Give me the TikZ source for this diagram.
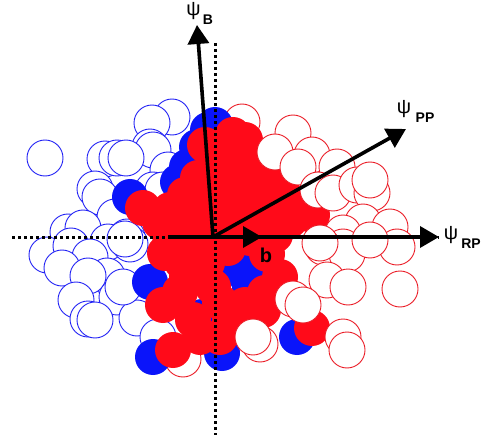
\documentclass[tikz,border=0pt]{standalone}
\usepackage{fontspec}
\setmainfont{Liberation Sans}
\usetikzlibrary{arrows.meta}
\definecolor{rfill}{RGB}{255,10,25}
\definecolor{bfill}{RGB}{10,20,250}
\definecolor{rline}{RGB}{235,30,40}
\definecolor{bline}{RGB}{35,35,245}
\tikzset{
  bopen/.style={draw=bline,fill=white,line width=0.9pt},
  ropen/.style={draw=rline,fill=white,line width=0.9pt},
  bsolid/.style={fill=bfill},
  rsolid/.style={fill=rfill},
  axisdot/.style={line width=3pt,dash pattern=on 3pt off 3pt},
  vec/.style={line width=3.6pt,-{Triangle[length=19pt,width=21pt]}},
  psi/.style={inner sep=0pt,font=\fontsize{20}{20}\selectfont},
  sub/.style={inner sep=0pt,font=\bfseries\fontsize{14}{14}\selectfont},
}
\begin{document}
\begin{tikzpicture}[x=1pt,y=-1pt]
\useasboundingbox (0,0) rectangle (485,441);
% blue open
\foreach \cx/\cy in {45/158,172/117,152/123,150/147,153/150,105/159,117/158,126/158,168/170,95/189,100/197,153/190,163/190,115/217,68/232,83/228,127/237,108/242,130/244,47/255,71/246,90/257,62/268,107/276,88/276,117/297,76/300,88/319,95/320,137/318,123/287,125/239,158/337}
  \draw[bopen] (\cx,\cy) circle (18pt);
% red open underneath
\foreach \cx/\cy in {242/122,183/359}
  \draw[ropen] (\cx,\cy) circle (18pt);
% blue filled
\foreach \cx/\cy in {130/197,208/130,215/125,197/147,187/167,178/182,150/282,153/357,222/353,202/317,237/268,250/287,297/337,247/277}
  \fill[bsolid] (\cx,\cy) circle (18pt);
% red filled
\foreach \cx/\cy in {205/145,233/135,245/140,257/157,267/173,283/193,298/205,312/215,290/220,270/212,250/190,235/170,222/160,215/185,198/178,185/195,170/210,143/208,160/222,192/222,170/235,165/253,182/262,207/263,187/277,213/287,228/248,250/238,267/254,280/277,265/293,263/310,245/305,220/302,230/320,200/337,220/337,193/320,163/305,173/350,180/292,312/328,275/235,240/215,205/215,188/245,215/230,230/200,255/210,232/230}
  \fill[rsolid] (\cx,\cy) circle (18pt);
% red open on top
\foreach \cx/\cy in {293/133,275/152,312/155,337/167,298/167,318/190,333/193,357/185,372/193,370/180,363/222,390/227,343/233,343/247,397/247,323/247,347/254,327/280,348/287,400/289,293/299,303/305,260/344,253/337,343/337,347/350,370/240,320/243}
  \draw[ropen] (\cx,\cy) circle (18pt);
% axes
\coordinate (O) at (213,237);
\coordinate (hl) at (12,237);
\coordinate (hr) at (439,237);
\coordinate (vt) at (215,43);
\coordinate (vb) at (215,435);
\draw[axisdot] (hl) -- (hr);
\draw[axisdot] (vt) -- (vb);
% vectors
\coordinate (bA) at (168,237);
\coordinate (bB) at (262,237);
\coordinate (RP) at (439,237);
\coordinate (PP) at (406,129);
\coordinate (BB) at (197,25);
\draw[vec] (bA) -- (bB);
\draw[vec] (O) -- (RP);
\draw[vec] (O) -- (PP);
\draw[vec] (O) -- (BB);
% labels
\node[psi] (psiRP) at (451,235) {ψ};
\node[sub] (subRP) at (471,244) {RP};
\node[psi] (psiPP) at (404,109.5) {ψ};
\node[sub] (subPP) at (425,118) {PP};
\node[psi] (psiB) at (193.5,11) {ψ};
\node[sub] (subB) at (208,20) {B};
\node[inner sep=0pt,font=\bfseries\fontsize{20}{20}\selectfont] (blab) at (266,255.5) {b};
\end{tikzpicture}
\end{document}
